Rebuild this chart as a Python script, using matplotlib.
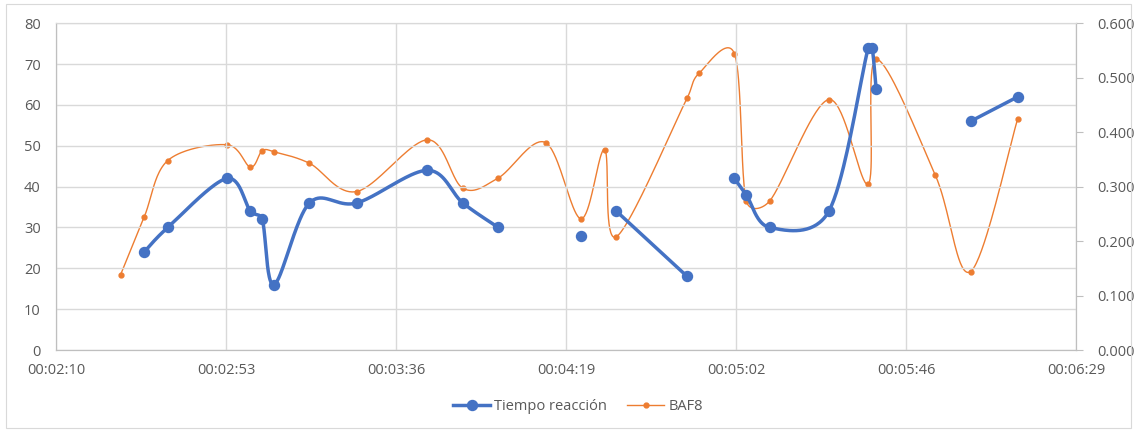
import numpy as np
import matplotlib
matplotlib.use("Agg")
import matplotlib.pyplot as plt
from matplotlib.lines import Line2D
from matplotlib.patches import Rectangle
from matplotlib.ticker import FuncFormatter

plt.rcParams['font.family'] = ['Open Sans', 'DejaVu Sans']

# time in seconds since 00:00:00
blue_t = [152, 158, 173, 179, 182, 185, 194, 206, 224, 233, 242, 254, 263, 269,
          272, 290, 293, 302, 305, 311, 326, 336, 337, 338, 353, 362, 374]
blue_v = [24, 30, 42, 34, 32, 16, 36, 36, 44, 36, 30, np.nan, 28, np.nan,
          34, 18, np.nan, 42, 38, 30, 34, 74, 74, 64, np.nan, 56, 62]

baf_t = [146, 152, 158, 173, 179, 182, 185, 194, 206, 224, 233, 242, 254, 263,
         269, 272, 290, 293, 302, 305, 311, 326, 336, 338, 353, 362, 374]
baf_v = [0.138, 0.244, 0.348, 0.377, 0.336, 0.366, 0.364, 0.343, 0.291, 0.386,
         0.297, 0.316, 0.381, 0.241, 0.368, 0.208, 0.463, 0.508, 0.544, 0.274,
         0.274, 0.460, 0.305, 0.534, 0.322, 0.144, 0.425]

BLUE = '#4472C4'
ORANGE = '#ED7D31'
GRID = '#d9d9d9'
TXT = '#595959'

x_min, x_max, step = 129.6, 388.8, 43.2
AX_W, AX_H = 1020, 326.7  # plot area in pixels


def smooth(x, y, sx, sy, n=40):
    # excel-like smoothed line: bezier with arms clamped to half a segment
    # distances are measured in pixels (sx, sy = pixels per data unit)
    p = np.column_stack([np.asarray(x, float) * sx, np.asarray(y, float) * sy])
    if len(p) < 3:
        return p[:, 0] / sx, p[:, 1] / sy
    p = np.vstack([p[:1], p, p[-1:]])
    s = np.linspace(0, 1, n)[:, None]
    out = []
    for i in range(1, len(p) - 2):
        p0, p1, p2, p3 = p[i - 1], p[i], p[i + 1], p[i + 2]
        d12 = np.hypot(*(p2 - p1))
        d02 = np.hypot(*(p2 - p0))
        d13 = np.hypot(*(p3 - p1))
        f1 = 1 / 6 if d02 / 6 < d12 / 2 else d12 / (2 * d02)
        f2 = 1 / 6 if d13 / 6 < d12 / 2 else d12 / (2 * d13)
        c1 = p1 + (p2 - p0) * f1
        c2 = p2 - (p3 - p1) * f2
        out.append((1 - s) ** 3 * p1 + 3 * (1 - s) ** 2 * s * c1
                   + 3 * (1 - s) * s ** 2 * c2 + s ** 3 * p2)
    b = np.vstack(out)
    return b[:, 0] / sx, b[:, 1] / sy


def segments(x, y):
    seg = []
    cur = []
    for a, b in zip(x, y):
        if np.isnan(b):
            if cur:
                seg.append(cur)
            cur = []
        else:
            cur.append((a, b))
    if cur:
        seg.append(cur)
    return seg


def hms(v, pos=None):
    s = int(round(v))
    return '%02d:%02d:%02d' % (s // 3600, (s // 60) % 60, s % 60)


fig = plt.figure(figsize=(11.41, 4.32), dpi=100)
fig.patches.append(Rectangle((6 / 1141, 4 / 432), 1125 / 1141, 424 / 432,
                             transform=fig.transFigure, fill=False,
                             edgecolor=GRID, linewidth=0.8))
ax = fig.add_axes([56 / 1141, 82 / 432, AX_W / 1141, AX_H / 432])
ax2 = ax.twinx()

ax.set_xlim(x_min, x_max)
ax.set_xticks(np.arange(x_min, x_max + 1, step))
ax.xaxis.set_major_formatter(FuncFormatter(hms))
ax.set_ylim(0, 80)
ax.set_yticks(range(0, 81, 10))
ax2.set_ylim(0, 0.6)
ax2.set_yticks(np.arange(0, 0.61, 0.1))
ax2.yaxis.set_major_formatter(FuncFormatter(lambda v, p: '%.3f' % v))

ax.grid(True, color=GRID, linewidth=1.0)
ax.set_axisbelow(True)
for a in (ax, ax2):
    for side in a.spines:
        a.spines[side].set_color(GRID)
    a.spines['left'].set_color('#bfbfbf')
    a.spines['bottom'].set_color('#bfbfbf')
    a.spines['right'].set_color('#bfbfbf')
ax.tick_params(axis='y', length=0, pad=11, labelsize=10.5, labelcolor=TXT)
ax.tick_params(axis='x', length=0, pad=9, labelsize=10.5, labelcolor=TXT)
ax2.tick_params(axis='y', length=5, color='#bfbfbf', pad=10, labelsize=10.5,
                labelcolor=TXT)

px_per_s = AX_W / (x_max - x_min)

# BAF8 on secondary axis
cx, cy = smooth(baf_t, baf_v, px_per_s, AX_H / 0.6)
ax2.plot(cx, cy, color=ORANGE, linewidth=1.0, zorder=2)
ax2.plot(baf_t, baf_v, 'o', color=ORANGE, markersize=3.5, zorder=2)

# Tiempo reacción on primary axis, drawn on top
ax.set_zorder(ax2.get_zorder() + 1)
ax.patch.set_visible(False)
for seg in segments(blue_t, blue_v):
    xs = [p[0] for p in seg]
    ys = [p[1] for p in seg]
    cx, cy = smooth(xs, ys, px_per_s, AX_H / 80)
    ax.plot(cx, cy, color=BLUE, linewidth=2.5, solid_capstyle='round')
    ax.plot(xs, ys, 'o', color=BLUE, markersize=7.2)

handles = [Line2D([], [], color=BLUE, linewidth=2.5, marker='o', markersize=7.2),
           Line2D([], [], color=ORANGE, linewidth=1.0, marker='o', markersize=3.5)]
fig.legend(handles, ['Tiempo reacción', 'BAF8'], loc='center',
           bbox_to_anchor=(578 / 1141, 1 - 407 / 432), ncol=2, frameon=False,
           fontsize=10.5, labelcolor=TXT, handlelength=2.5, handletextpad=0.3,
           columnspacing=1.4)

fig.savefig('out.png', dpi=100)
